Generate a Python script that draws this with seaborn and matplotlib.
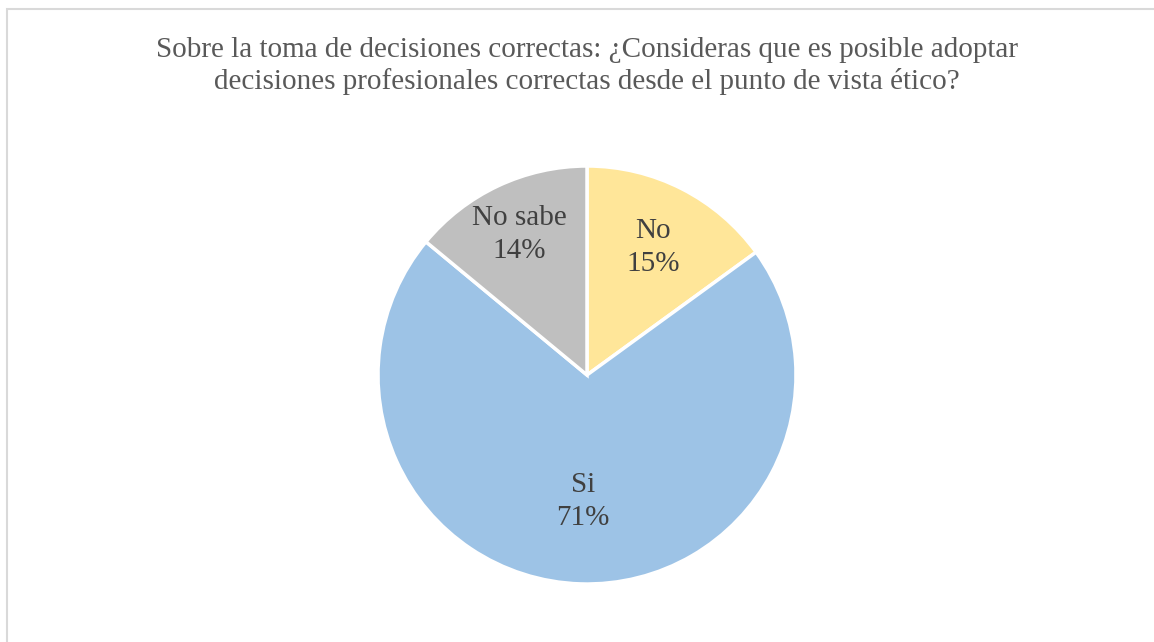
import matplotlib
matplotlib.use("Agg")
import matplotlib.pyplot as plt
import seaborn as sns
import numpy as np
from matplotlib.patches import Rectangle

sns.set_theme(style="white")
plt.rcParams['font.family'] = ['Liberation Serif', 'DejaVu Serif']

categories = ["No", "Si", "No sabe"]
values = [15, 71, 14]
colors = ["#FFE699", "#9DC3E6", "#BFBFBF"]
title = "Sobre la toma de decisiones correctas: ¿Consideras que es posible adoptar\ndecisiones profesionales correctas desde el punto de vista ético?"

fig = plt.figure(figsize=(11.54, 6.42), dpi=100)
fig.patches.append(Rectangle((6.5/1154, -0.2), 1.2, 1.2 - 9/642, transform=fig.transFigure,
                             fill=False, edgecolor="#D9D9D9", linewidth=1.5))
ax = fig.add_axes([(587-209)/1154, (642-584)/642, 418/1154, 418/642])
wedges, _ = ax.pie(values, colors=colors, startangle=90, counterclock=False,
                   wedgeprops=dict(edgecolor="white", linewidth=2.5))
label_r = [0.70, 0.59, 0.76]
for w, cat, v, r in zip(wedges, categories, values, label_r):
    ang = np.deg2rad((w.theta1 + w.theta2) / 2)
    ax.text(r*np.cos(ang), r*np.sin(ang) - 0.014, f"{cat}\n{v}%", ha="center", va="center",
            fontsize=21, color="#404040", linespacing=1.35)
ax.set_xlim(-1, 1); ax.set_ylim(-1, 1)
ax.set_aspect("equal")
fig.text(587/1154, 1 - 66/642, title, ha="center", va="center", fontsize=21,
         color="#595959", linespacing=1.25)
fig.savefig("out.png", dpi=100)
